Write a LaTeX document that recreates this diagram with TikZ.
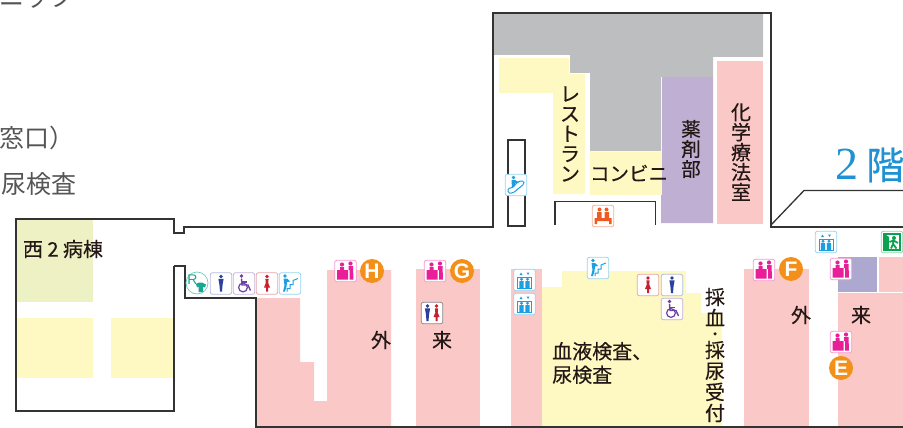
\documentclass[tikz,border=0pt]{standalone}
\usepackage{fontspec}
\setmainfont{Liberation Sans}
\newfontfamily\jpfont[FakeBold=0.3]{Noto Sans CJK JP}
\newfontfamily\jplight{Noto Sans CJK JP}
\newfontfamily\numfont{Liberation Serif}
\definecolor{wallgray}{HTML}{333333}
\definecolor{roompink}{HTML}{FBC8C8}
\definecolor{roomyellow}{HTML}{FEF8C3}
\definecolor{roomolive}{HTML}{EEF1C4}
\definecolor{roompurple}{HTML}{BFAFD3}
\definecolor{roomblue}{HTML}{ADA8D0}
\definecolor{roomgray}{HTML}{BCBEC0}
\definecolor{textdark}{HTML}{231815}
\definecolor{textgray}{HTML}{555555}
\definecolor{floorblue}{HTML}{2092D4}
\definecolor{markorange}{HTML}{F39019}
\definecolor{icmagenta}{HTML}{E91E99}
\definecolor{iccyan}{HTML}{1C9FE0}
\definecolor{icman}{HTML}{2A3F9E}
\definecolor{icwoman}{HTML}{C8202F}
\definecolor{icchair}{HTML}{6F3FA5}
\definecolor{icteal}{HTML}{16A88F}
\definecolor{icgreen}{HTML}{0FA04F}
\definecolor{icred}{HTML}{EE5A24}
\tikzset{
	wall/.style={draw=wallgray,line width=2pt,line join=miter},
	thinwall/.style={draw=wallgray,line width=1.3pt},
	lbl/.style={inner sep=0pt,text=textdark,align=center,font=\jpfont\fontsize{20}{20.5}\selectfont},
	sidelbl/.style={inner sep=0pt,text=textgray,anchor=east,font=\jplight\fontsize{25}{25}\selectfont},
	letter/.style={circle,fill=markorange,text=white,inner sep=0pt,minimum size=24pt,font=\bfseries\fontsize{21}{21}\selectfont},
	pics/iconbox/.style={code={\draw [draw=#1,fill=white,line width=0.8pt,rounded corners=2pt] (-10.7,-10.7) rectangle (10.7,10.7);}},
	pics/manfig/.style={code={
		\fill [#1] (0,-7) circle (1.8);
		\fill [#1] (-2.6,-4.6) -- (2.6,-4.6) -- (1.6,1) -- (1,8) -- (-1,8) -- (-1.6,1) -- cycle;}},
	pics/womanfig/.style={code={
		\fill [#1] (0,-7) circle (1.8);
		\fill [#1] (-1.6,-4.6) -- (1.6,-4.6) -- (1.2,-0.5) -- (3,4) -- (1,4) -- (1,8) -- (-1,8) -- (-1,4) -- (-3,4) -- (-1.2,-0.5) -- cycle;}},
	pics/iconman/.style={code={\pic {iconbox=icman!35}; \pic {manfig=icman};}},
	pics/iconwoman/.style={code={\pic {iconbox=icwoman!40}; \pic {womanfig=icwoman};}},
	pics/iconchair/.style={code={
		\pic {iconbox=icchair!40};
		\fill [icchair] (-2.5,-7.5) circle (1.8);
		\draw [icchair,line width=1.4pt] (-2.5,-5) -- (-2,1.5) -- (4,1.5) -- (6.5,7);
		\draw [icchair,line width=1.1pt] (-2,-1.5) -- (3,-1.5);
		\draw [icchair,line width=1.2pt] (-1,4) circle (4.4);}},
	pics/iconstairs/.style={code={
		\pic {iconbox=iccyan!45};
		\draw [iccyan,line width=1pt] (-3,8) -- (-3,5) -- (0,5) -- (0,1) -- (3,1) -- (3,-3) -- (8,-5);
		\fill [iccyan] (-5,-7.5) circle (1.9);
		\fill [iccyan] (-6.5,-5) -- (-3,-5) -- (0,-2) -- (-3,-1.5) -- (-3.5,3) -- (-5,8) -- (-7,8) -- (-5.5,2) -- cycle;}},
	pics/iconescal/.style={code={
		\pic {iconbox=iccyan!45};
		\draw [iccyan,line width=1pt,rounded corners=1.5pt] (-8,8) -- (-3,8) -- (8,-1) -- (8,-4) -- (3,-4) -- (-4,3) -- (-8,3) -- cycle;
		\fill [iccyan] (-2.5,-7.5) circle (1.9);
		\fill [iccyan] (-4.5,-5) -- (-1,-5) -- (3,-2.5) -- (-1,-1.5) -- (-1,1) -- (-4,3) -- cycle;}},
	pics/iconlift/.style={code={
		\pic {iconbox=iccyan!45};
		\draw [iccyan,line width=0.8pt] (-7,-2.5) rectangle (7,8.5);
		\fill [iccyan] (-3.5,-7.5) -- (-5,-5) -- (-2,-5) -- cycle (3.5,-5) -- (2,-7.5) -- (5,-7.5) -- cycle;
		\fill [iccyan] (-3,-0.8) circle (1.6) (3,-0.8) circle (1.6);
		\fill [iccyan] (-5.2,1) rectangle (-0.8,8) (0.8,1) rectangle (5.2,8);}},
	pics/deskfig/.style={code={
		\fill [#1] (-3.5,-6.5) circle (2.1) (5,-7.5) circle (2.1);
		\fill [#1] (-5.5,-4) -- (-1.5,-4) -- (-1.5,-1) -- (2.5,-1) -- (2.5,8.5) -- (-8.5,8.5) -- (-8.5,-1) -- (-5.5,-1) -- cycle;
		\fill [#1] (3,-5) -- (7.5,-5) -- (8,8.5) -- (4,8.5) -- (4,-1) -- (3,-1) -- cycle;}},
	pics/iconreception/.style={code={\pic {iconbox=icmagenta!45}; \pic {deskfig=icmagenta};}},
	pics/iconshop/.style={code={
		\pic {iconbox=icred!50};
		\fill [icred] (-3.5,-6.5) circle (2) (3.5,-6.5) circle (2);
		\fill [icred] (-6,-4) -- (-1.5,-4) -- (-1.5,2) -- (1.5,2) -- (1.5,-4) -- (6,-4) -- (6,2) -- (8.5,2) -- (8.5,8) -- (6,8) -- (6,5) -- (-6,5) -- (-6,8) -- (-8.5,8) -- (-8.5,2) -- (-6,2) -- cycle;}},
	pics/iconwc/.style={code={
		\pic {iconbox=black!45};
		\pic at (-4.5,0) {manfig=icman}; \pic at (4.5,0) {womanfig=icwoman};}},
	pics/iconexit/.style={code={
		\pic {iconbox=icgreen!45};
		\draw [icgreen,line width=2.2pt] (-7.5,8) -- (-7.5,-8) -- (8,-8) -- (8,8) -- cycle;
		\fill [icgreen] (-7.5,-8) -- (-3,-5) -- (-3,8) -- (-7.5,8) -- cycle;
		\fill [icgreen] (2,-4) circle (2);
		\draw [icgreen,line width=1.8pt] (-1,6.5) -- (1,2) -- (1.5,-1.5) -- (6,1) (1.5,-1.5) -- (-2.5,0) (1,2) -- (4.5,6.5);}},
	pics/iconrental/.style={code={
		\draw [draw=icteal!60,fill=white,line width=0.7pt] (0,0) circle (11);
		\node (rletter) [text=icteal,inner sep=0pt,font=\fontsize{14}{14}\selectfont] at (-4.5,-3) {R};
		\fill [icteal] (-1,1) -- (2,-0.5) -- (5,-0.5) -- (9,1.5) -- (8,4.5) -- (6,3.5) -- (6,9) -- (1.5,9) -- (1.5,3.5) -- (0,4.5) -- cycle;}},
}
\begin{document}
\begin{tikzpicture}[x=1pt,y=-1pt]
	\useasboundingbox (0,0) rectangle (903,428);
	\clip (0,0) rectangle (903,428);
	% west wing rooms
	\fill [roomolive] (16,220) rectangle (93,302);
	\fill [roomyellow] (15,318) rectangle (93,378);
	\fill [roomyellow] (111,318) rectangle (174,378);
	% upper block
	\fill [roomgray] (494,14) -- (763,14) -- (763,57) -- (713,57) -- (713,77) -- (661,77) -- (661,151) -- (590,151) -- (590,73) -- (570,73) -- (570,55) -- (494,55) -- cycle;
	\fill [roomyellow] (499,58) -- (569,58) -- (569,74) -- (585,74) -- (585,194) -- (553,194) -- (553,93) -- (499,93) -- cycle;
	\fill [roomyellow] (590,152) rectangle (662,195);
	\fill [roompurple] (662,77) -- (713,77) -- (713,223) -- (661,223) -- (661,195) -- (662,195) -- cycle;
	\fill [roompink] (717,61) rectangle (763,224);
	% lower block
	\fill [roompink] (257,298) -- (300,298) -- (300,362) -- (314,362) -- (314,401) -- (327,401) -- (327,270) -- (391,270) -- (391,427) -- (257,427) -- cycle;
	\fill [roompink] (416,269) rectangle (480,427);
	\fill [roompink] (511,269) rectangle (542,427);
	\fill [roomyellow] (542,287) -- (562,287) -- (562,271) -- (686,271) -- (686,293) -- (701,293) -- (701,313) -- (722,313) -- (722,427) -- (542,427) -- cycle;
	\fill [roompink] (744,269) rectangle (809,427);
	\fill [roompink] (838,293) rectangle (903,427);
	\fill [roomblue] (838,257) rectangle (877,292);
	\fill [roompink] (879,257) rectangle (903,292);
	% walls
	\draw [wall] (174,266) -- (174,411) -- (16,411) -- (16,219) -- (174,219) -- (174,233) -- (184,233) -- (184,227) -- (493,227) -- (493,13) -- (771,13) -- (771,227) -- (904,227);
	\draw [wall] (174,266) -- (185,266) -- (185,298) -- (256,298) -- (256,427) -- (904,427);
	\draw [thinwall] (771,225) -- (804,190.5) -- (904,190.5);
	\draw [thinwall] (508,140) rectangle (525,226);
	\draw [thinwall] (555,225) -- (555,201.5) -- (655.5,201.5) -- (655.5,225);
	% labels
	\node (nicklbl) [sidelbl] at (75,-3) {ニック};
	\node (windowlbl) [sidelbl] at (75,138) {窓口）};
	\node (urinelbl) [sidelbl] at (77,184) {尿検査};
	\node (westlbl) [lbl] at (63,249) {西 2 病棟};
	\node (outlbla) [lbl] at (381,340) {外};
	\node (inlbla) [lbl] at (442,340) {来};
	\node (outlblb) [lbl] at (801,315) {外};
	\node (inlblb) [lbl] at (861,315) {来};
	\node (bloodlbl) [lbl,align=left,anchor=west,font=\jpfont\fontsize{20}{23.5}\selectfont] at (552,363) {血液検査、\\尿検査};
	\node (samplelbl) [lbl,font=\jpfont\fontsize{20}{21}\selectfont] at (715,355) {採\\血\\[-7pt]{\fontsize{15}{21}\selectfont ・}\\[-3pt]採\\尿\\受\\付};
	\node (restlbl) [lbl,font=\jpfont\fontsize{20}{20}\selectfont] at (570,134) {レ\\ス\\ト\\ラ\\ン};
	\node (shoplbl) [lbl,font=\jpfont\fontsize{19.5}{20}\selectfont] at (629,173) {コンビニ};
	\node (pharmlbl) [lbl,font=\jpfont\fontsize{19.5}{20}\selectfont] at (691,149) {薬\\剤\\部};
	\node (chemolbl) [lbl,font=\jpfont\fontsize{20}{20}\selectfont] at (741,152) {化\\学\\療\\法\\室};
	\node (floorlbl) [inner sep=0pt,anchor=west,text=floorblue,font=\jpfont\fontsize{38}{38}\selectfont] at (835,165) {{\numfont\fontsize{46}{46}\selectfont 2}\hspace{8pt}階};
	% letters
	\node (markh) [letter] at (372,271) {H};
	\node (markg) [letter] at (462,271) {G};
	\node (markf) [letter] at (791,269) {F};
	\node (marke) [letter] at (841,368) {E};
	% icons
	\pic at (197,283) {iconrental};
	\pic at (221,283.5) {iconman};
	\pic at (244,283.5) {iconchair};
	\pic at (267,283.5) {iconwoman};
	\pic at (290,283.5) {iconstairs};
	\pic at (345.5,271) {iconreception};
	\pic at (435,271) {iconreception};
	\pic at (432,313) {iconwc};
	\pic at (524.5,280) {iconlift};
	\pic at (524.5,304) {iconlift};
	\pic at (598,268) {iconstairs};
	\pic at (648,285) {iconwoman};
	\pic at (672,285) {iconman};
	\pic at (672,309) {iconchair};
	\pic at (764,270) {iconreception};
	\pic at (826,242) {iconlift};
	\pic at (841,269) {iconreception};
	\pic at (841,342) {iconreception};
	\pic at (892,242) {iconexit};
	\pic at (516,185) {iconescal};
	\pic at (603,216) {iconshop};
\end{tikzpicture}
\end{document}
